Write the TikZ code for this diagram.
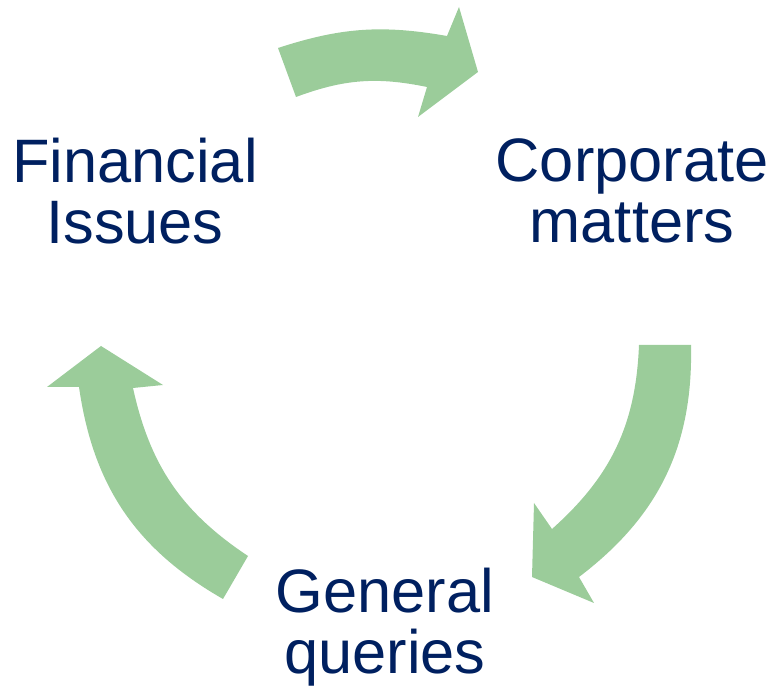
\documentclass[tikz,border=0pt]{standalone}
\usepackage{fontspec}
\setmainfont{Liberation Sans}
\usepackage{xcolor}
\usetikzlibrary{positioning}
\definecolor{cyclegreen}{HTML}{9BCC9A}
\definecolor{topicnavy}{HTML}{002060}
\tikzset{
  topic/.style={
    align=center, inner sep=0pt, text=topicnavy,
    font=\fontsize{46}{46}\selectfont,
  },
  cyclearrow/.style={fill=cyclegreen, draw=none},
}
\begin{document}
\begin{tikzpicture}[x=0.75pt, y=0.75pt]
\useasboundingbox (0,0) rectangle (774,688);

% ---------------------------------------------------------------- topics
\node[topic] (fin)  at (135,497) {Financial\\Issues};
\node[topic] (corp) at (632,497) {Corporate\\matters};
\node[topic] (gen)  at (385,61)  {General\\queries};

% ---------------------------------------------------------------- arrows
% fin -> corp, over the top
\fill[cyclearrow] (278,640) -- (296,591) to[bend left=16] (427,601)
  -- (418,571) -- (478,616) -- (459,681) -- (447,652)
  to[bend right=14] cycle;
% corp -> gen, down the right side
\fill[cyclearrow] (691,343) -- (639,343) to[bend left=23] (552,159)
  -- (534,185) -- (532,111) -- (594,85) -- (579,111)
  to[bend right=27] cycle;
% gen -> fin, up the left side
\fill[cyclearrow] (223,89) -- (248,132) to[bend left=22] (133,300)
  -- (163,303) -- (101,342) -- (47,301) -- (79,301)
  to[bend right=26] cycle;

\end{tikzpicture}
\end{document}
